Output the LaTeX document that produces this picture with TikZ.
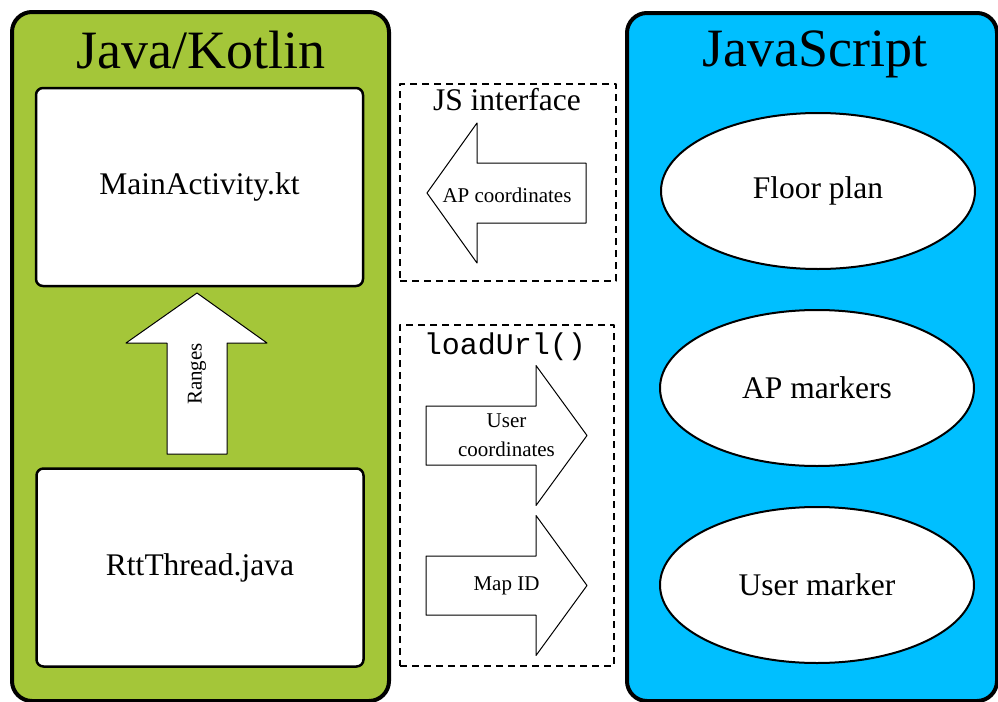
\documentclass[tikz,border=0pt]{standalone}
\usepackage{fontspec}
\setmainfont{Liberation Serif}
\setmonofont{Liberation Mono}
\usetikzlibrary{shapes.geometric}
\definecolor{androidgreen}{HTML}{A4C639}
\definecolor{jsblue}{HTML}{00BFFF}
\begin{document}
\begin{tikzpicture}[x=.5pt, y=-.5pt, line join=round,
	lang/.style={draw, line width=2pt, rounded corners=10pt, inner sep=0pt},
	title/.style={anchor=base, font=\fontsize{27}{30}\selectfont},
	file/.style={draw, fill=white, line width=1.25pt, rounded corners=3.5pt, minimum width=163.5pt, minimum height=99pt, font=\fontsize{15.75}{18}\selectfont},
	iface/.style={draw, line width=1pt, dash pattern=on 3.5pt off 2.5pt, inner sep=0pt},
	layer/.style={draw, fill=white, ellipse, line width=1pt, minimum width=157pt, minimum height=78pt, inner sep=0pt, font=\fontsize{15.75}{18}\selectfont},
	blockarrow/.style={draw, fill=white, line width=.5pt},
	small/.style={font=\fontsize{10.5}{14.5}\selectfont, align=center}]
	\useasboundingbox (0,0) rectangle (998,702);
	% Java side
	\node[lang, fill=androidgreen, minimum width=188.5pt, minimum height=344.5pt] (java) at (200.5,356.5) {};
	\node[title] (javatitle) at (201,68) {Java/Kotlin};
	\node[file] (main) at (199.5,187) {MainActivity.kt};
	\node[file] (rtt) at (200,567.5) {RttThread.java};
	\draw[blockarrow] (197,293)--(267,343)--(227,343)--(227,454)--(167,454)--(167,343)--(126,343)--cycle;
	\node[small, rotate=90] (ranges) at (197,374) {Ranges};
	% JavaScript side
	\node[lang, fill=jsblue, minimum width=185pt, minimum height=344pt] (js) at (812,357) {};
	\node[title] (jstitle) at (815,66) {JavaScript};
	\node[layer] (floor) at (818,191) {Floor plan};
	\node[layer] (apm) at (817,388) {AP markers};
	\node[layer] (userm) at (817,585) {User marker};
	% interfaces in between
	\node[iface, minimum width=108pt, minimum height=98.5pt] (jsif) at (508,182.5) {};
	\node[anchor=base, font=\fontsize{15.75}{18}\selectfont] (jsiftitle) at (507,110) {JS interface};
	\draw[blockarrow] (427,193)--(477,123)--(477,163)--(586,163)--(586,223)--(477,223)--(477,263)--cycle;
	\node[small] (apc) at (507,195) {AP coordinates};
	\node[iface, minimum width=107pt, minimum height=170.5pt] (load) at (507,495.5) {};
	\node[anchor=base, font=\ttfamily\fontsize{15}{18}\selectfont] (loadtitle) at (505,354) {loadUrl()};
	\foreach \yy/\nm/\txt in {435.5/usrc/{User\\coordinates}, 585.5/mapid/{Map ID}}{
		\draw[blockarrow] (426,\yy-29.5)--(536,\yy-29.5)--(536,\yy-70)--(587,\yy)--(536,\yy+70)--(536,\yy+29.5)--(426,\yy+29.5)--cycle;
		\node[small] (\nm) at (506.5,\yy) {\txt};
	}
\end{tikzpicture}
\end{document}
